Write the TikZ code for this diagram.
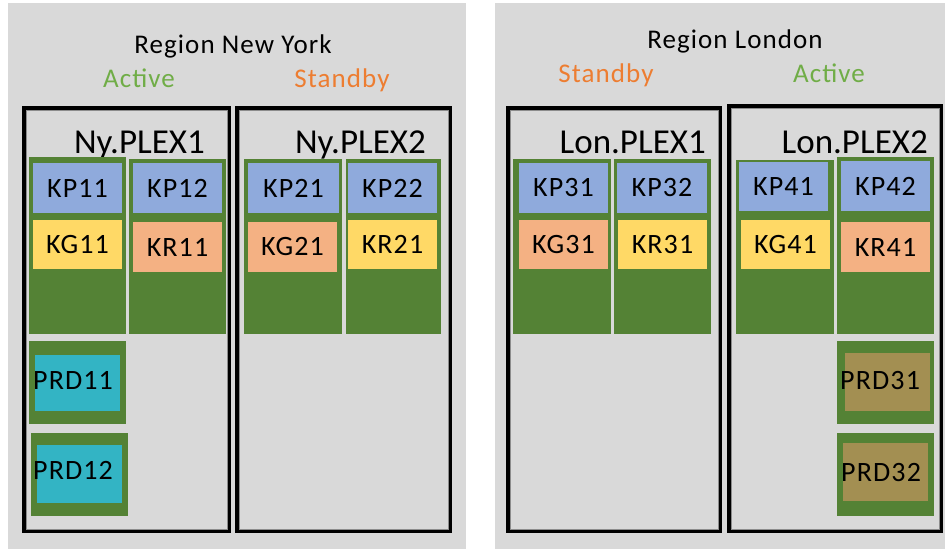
\documentclass[tikz,border=0pt]{standalone}
\usepackage{fontspec}
\setmainfont{Carlito}[LetterSpace=4]
\newfontfamily\plexfont{Carlito}
\definecolor{panel}{HTML}{D9D9D9}
\definecolor{plexgreen}{HTML}{548235}
\definecolor{kpblue}{HTML}{8FAADC}
\definecolor{kyellow}{HTML}{FFD966}
\definecolor{ksalmon}{HTML}{F4B183}
\definecolor{prdcyan}{HTML}{33B4C4}
\definecolor{prdolive}{HTML}{A38F52}
\definecolor{activegreen}{HTML}{70AD47}
\definecolor{standbyorange}{HTML}{ED7D31}
\definecolor{rimgray}{HTML}{8C8C8C}
\tikzset{
  blk/.style={anchor=north west, inner sep=0pt, outer sep=0pt},
  regionbg/.style={blk, fill=panel},
  plexbox/.style={blk, draw=black, line width=3.5pt},
  greencol/.style={blk, fill=plexgreen},
  cell/.style={blk, font=\fontsize{28}{30}\selectfont},
  kp/.style={cell, fill=kpblue},
  kyel/.style={cell, fill=kyellow},
  ksal/.style={cell, fill=ksalmon},
  prdc/.style={blk, fill=prdcyan},
  prdo/.style={blk, fill=prdolive},
  prdlabel/.style={anchor=base west, inner sep=0pt, font=\fontsize{28}{30}\selectfont},
  regiontitle/.style={anchor=base, inner sep=0pt, font=\fontsize{27}{30}\selectfont},
  status/.style={anchor=base, inner sep=0pt, font=\fontsize{27}{30}\selectfont},
  plexlabel/.style={anchor=base east, inner sep=0pt, font=\plexfont\fontsize{35}{38}\selectfont},
  rim/.style={draw=rimgray, line width=0.8pt},
}
\begin{document}
\begin{tikzpicture}[x=1pt,y=-1pt]
\useasboundingbox (0,0) rectangle (945,549);
\fill[white] (0,0) rectangle (945,549);

% region panels
\node[regionbg, minimum width=458pt, minimum height=546pt] (ny) at (8,3) {};
\node[regionbg, minimum width=450pt, minimum height=546pt] (lon) at (495,3) {};

% region titles and roles
\node[regiontitle] (nyt) at (233,53) {Region New York};
\node[status, text=activegreen] (nya) at (139,87) {Active};
\node[status, text=standbyorange] (nys) at (342,87) {Standby};
\node[regiontitle] (lont) at (735,48) {Region London};
\node[status, text=standbyorange] (lons) at (606,82) {Standby};
\node[status, text=activegreen] (lona) at (829,82) {Active};

% plex boxes: heavy black frame with a thin grey rim inside
\node[plexbox, minimum width=205.5pt, minimum height=423.5pt] (p1) at (23.75,107.75) {};
\node[plexbox, minimum width=213.5pt, minimum height=423.5pt] (p2) at (236.75,107.75) {};
\node[plexbox, minimum width=212.5pt, minimum height=423.5pt] (p3) at (507.75,107.75) {};
\node[plexbox, minimum width=212.5pt, minimum height=425.5pt] (p4) at (728.75,105.75) {};
\foreach \p in {p1,p2,p3,p4}
  \draw[rim] ([shift={(2.2pt,-2.2pt)}]\p.north west) rectangle ([shift={(-2.2pt,2.2pt)}]\p.south east);

\node[plexlabel] (p1l) at (205,153) {Ny.PLEX1};
\node[plexlabel] (p2l) at (426,153) {Ny.PLEX2};
\node[plexlabel] (p3l) at (706,153) {Lon.PLEX1};
\node[plexlabel] (p4l) at (928,153) {Lon.PLEX2};

% green columns
\node[greencol, minimum width=97pt, minimum height=177pt] (g1) at (29,157) {};
\node[greencol, minimum width=97pt, minimum height=175pt] (g2) at (129,159) {};
\node[greencol, minimum width=98pt, minimum height=175pt] (g3) at (244,159) {};
\node[greencol, minimum width=95pt, minimum height=175pt] (g4) at (346,159) {};
\node[greencol, minimum width=98pt, minimum height=175pt] (g5) at (513,159) {};
\node[greencol, minimum width=97pt, minimum height=175pt] (g6) at (614,159) {};
\node[greencol, minimum width=98pt, minimum height=174pt] (g7) at (736,160) {};
\node[greencol, minimum width=97pt, minimum height=177pt] (g8) at (837,157) {};

% cells
\node[kp, minimum width=89pt, minimum height=50pt] (kp11) at (33,163) {KP11};
\node[kyel, minimum width=89pt, minimum height=49pt] (kg11) at (33,220) {KG11};
\node[kp, minimum width=89pt, minimum height=50pt] (kp12) at (133,163) {KP12};
\node[ksal, minimum width=89pt, minimum height=50pt] (kr11) at (133,222) {KR11};

\node[kp, minimum width=91pt, minimum height=50pt] (kp21) at (248,163) {KP21};
\node[ksal, minimum width=89pt, minimum height=50pt] (kg21) at (248,222) {KG21};
\node[kp, minimum width=89pt, minimum height=50pt] (kp22) at (348,163) {KP22};
\node[kyel, minimum width=89pt, minimum height=49pt] (kr21) at (348,220) {KR21};

\node[kp, minimum width=89pt, minimum height=50pt] (kp31) at (519,163) {KP31};
\node[ksal, minimum width=89pt, minimum height=49pt] (kg31) at (519,220) {KG31};
\node[kp, minimum width=90pt, minimum height=50pt] (kp32) at (617,163) {KP32};
\node[kyel, minimum width=89pt, minimum height=49pt] (kr31) at (618,220) {KR31};

\node[kp, minimum width=89pt, minimum height=49pt] (kp41) at (739,162) {KP41};
\node[kyel, minimum width=89pt, minimum height=49pt] (kg41) at (741,220) {KG41};
\node[kp, minimum width=89pt, minimum height=50pt] (kp42) at (841,161) {KP42};
\node[ksal, minimum width=89pt, minimum height=50pt] (kr41) at (841,222) {KR41};

% production units
\node[greencol, minimum width=97pt, minimum height=83pt] (prd11g) at (29,341) {};
\node[prdc, minimum width=85pt, minimum height=56pt] (prd11) at (35,355) {};
\node[prdlabel] (prd11t) at (33,389) {PRD11};
\node[greencol, minimum width=97pt, minimum height=83pt] (prd12g) at (31,433) {};
\node[prdc, minimum width=85pt, minimum height=58pt] (prd12) at (37,445) {};
\node[prdlabel] (prd12t) at (33,479) {PRD12};

\node[greencol, minimum width=97pt, minimum height=83pt] (prd31g) at (837,341) {};
\node[prdo, minimum width=85pt, minimum height=58pt] (prd31) at (845,353) {};
\node[prdlabel] (prd31t) at (840,389) {PRD31};
\node[greencol, minimum width=97pt, minimum height=83pt] (prd32g) at (837,433) {};
\node[prdo, minimum width=85pt, minimum height=58pt] (prd32) at (843,443) {};
\node[prdlabel] (prd32t) at (841,481) {PRD32};
\end{tikzpicture}
\end{document}
